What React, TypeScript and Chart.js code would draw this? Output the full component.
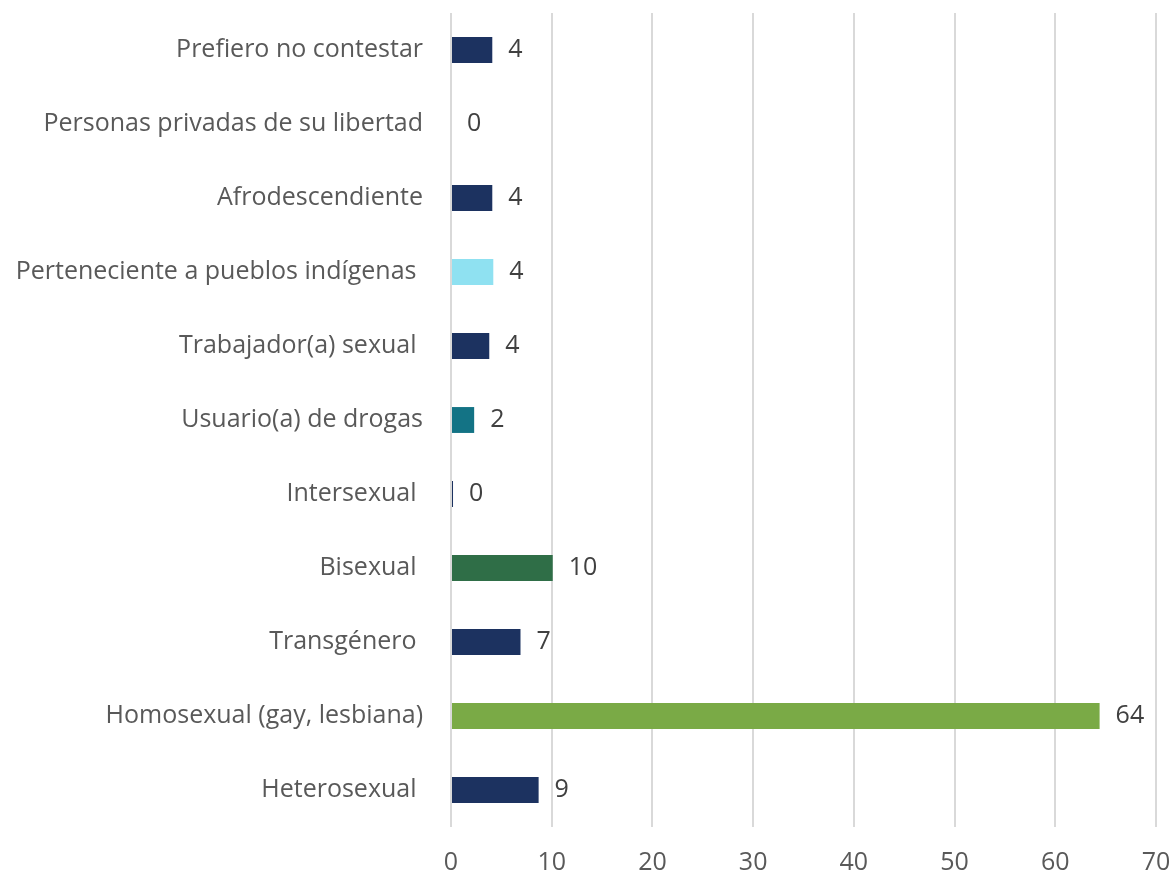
import React, { useEffect, useRef } from "react";
import { Chart, registerables } from "chart.js";

Chart.register(...registerables);

const categories = [
  "Prefiero no contestar",
  "Personas privadas de su libertad",
  "Afrodescendiente",
  "Perteneciente a pueblos indígenas ",
  "Trabajador(a) sexual ",
  "Usuario(a) de drogas",
  "Intersexual ",
  "Bisexual ",
  "Transgénero ",
  "Homosexual (gay, lesbiana)",
  "Heterosexual ",
];

const values = [4.1, 0, 4.1, 4.2, 3.8, 2.3, 0.2, 10.1, 6.9, 64.4, 8.7];

const barColors = [
  "#1C3260",
  "#1C3260",
  "#1C3260",
  "#8FE1F1",
  "#1C3260",
  "#137385",
  "#1C3260",
  "#2F6E47",
  "#1C3260",
  "#7AAA46",
  "#1C3260",
];

const xTicks = [0, 10, 20, 30, 40, 50, 60, 70];

const FONT = "'Open Sans', Lato, sans-serif";
const SIZE = 25;

const valueLabels = {
  id: "valueLabels",
  afterDatasetsDraw(chart: any) {
    const ctx = chart.ctx;
    const meta = chart.getDatasetMeta(0);
    ctx.save();
    ctx.font = `${SIZE}px ${FONT}`;
    ctx.fillStyle = "#404040";
    ctx.textAlign = "left";
    ctx.textBaseline = "middle";
    meta.data.forEach((bar: any, i: number) => {
      const v = values[i];
      ctx.fillText(String(Math.round(v)), bar.x + 16, bar.y);
    });
    ctx.restore();
  },
};

export default function App() {
  const ref = useRef<HTMLCanvasElement | null>(null);
  useEffect(() => {
    document.body.style.margin = "0";
    const chart = new Chart(ref.current as HTMLCanvasElement, {
      type: "bar",
      data: {
        labels: categories,
        datasets: [
          {
            data: values,
            backgroundColor: barColors,
            borderWidth: 0,
            barPercentage: 0.7,
            categoryPercentage: 0.5,
          },
        ],
      },
      options: {
        indexAxis: "y",
        animation: false,
        responsive: false,
        maintainAspectRatio: false,
        layout: { padding: { top: 13, right: 15, left: 0, bottom: 0 } },
        plugins: { legend: { display: false }, tooltip: { enabled: false } },
        scales: {
          x: {
            min: 0,
            max: 70,
            afterBuildTicks: (s: any) => {
              s.ticks = xTicks.map((v) => ({ value: v }));
            },
            grid: { color: "#D9D9D9", lineWidth: 2, drawTicks: false },
            border: { display: false },
            ticks: {
              font: { family: FONT, size: SIZE },
              color: "#595959",
              padding: 21,
            },
            afterFit: (s: any) => {
              s.height = 48;
              s.paddingLeft = 0;
              s.paddingRight = 0;
            },
          },
          y: {
            grid: { display: false, drawTicks: false },
            border: { display: false },
            ticks: {
              font: { family: FONT, size: SIZE },
              color: "#595959",
              padding: 28,
            },
            afterFit: (s: any) => {
              s.width = 451;
              s.paddingTop = 0;
              s.paddingBottom = 0;
            },
          },
        },
      },
      plugins: [valueLabels],
    });
    return () => chart.destroy();
  }, []);
  return (
    <div style={{ position: "fixed", left: 0, top: 0, width: 1171, height: 875 }}>
      <canvas ref={ref} width={1171} height={875} style={{ width: 1171, height: 875 }} />
    </div>
  );
}
